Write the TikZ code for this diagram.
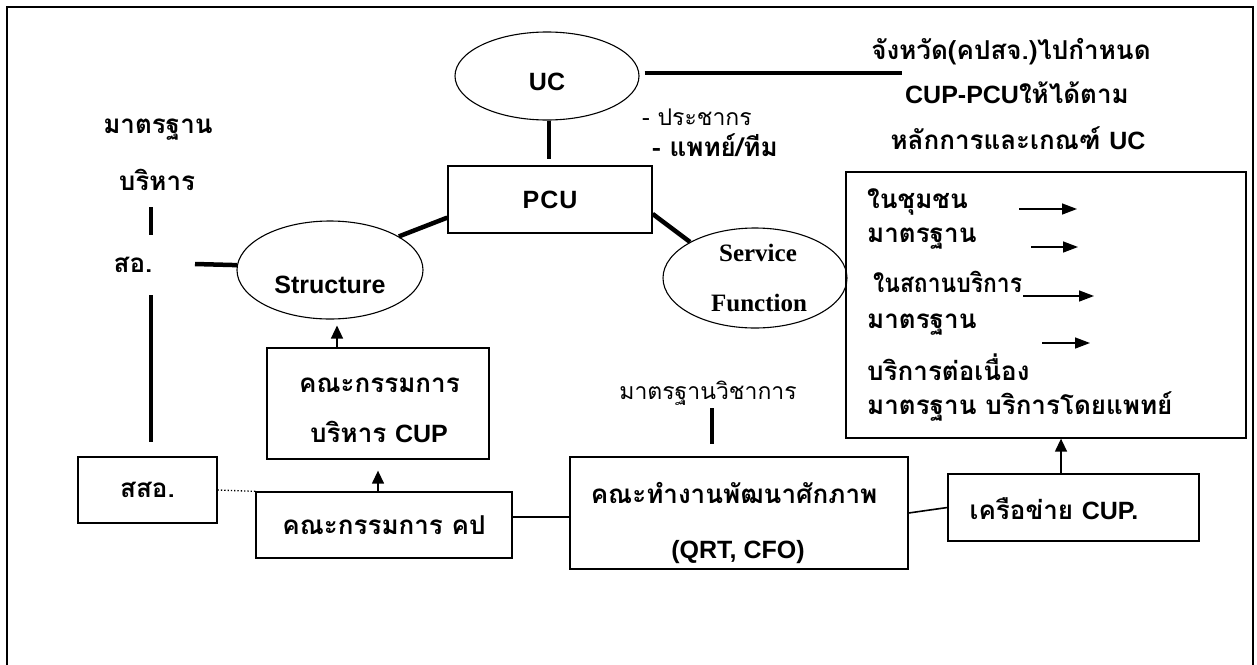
\documentclass[tikz,border=0pt]{standalone}
\usepackage{fontspec}
\usepackage{graphicx}
\setmainfont{Liberation Serif}
\setsansfont{Liberation Sans}
\newfontfamily\thaif[Script=Thai]{Loma}
\usetikzlibrary{shapes.geometric,arrows.meta}
\newcommand\fsz{\fontsize{26}{30}\selectfont}
\newcommand\fszr{\fontsize{23}{27}\selectfont}
\newcommand\fszl{\fontsize{25}{30}\selectfont}
\newcommand\lt[1]{{\fszl\sffamily #1}}
\tikzset{
 box/.style={draw, line width=1.3pt, rectangle, inner sep=0pt, font=\fsz\thaif\bfseries},
 ell/.style={draw, line width=1.1pt, ellipse, inner sep=0pt},
 thk/.style={line width=4.5pt},
 thn/.style={line width=1.6pt},
 txt/.style={inner sep=0pt, font=\fsz\thaif\bfseries},
 txtreg/.style={inner sep=0pt, font=\fszr\thaif},
 lat/.style={inner sep=0pt, font=\fszl\sffamily\bfseries},
 ser/.style={inner sep=0pt, font=\fszl\rmfamily\bfseries},
 arr/.style={line width=1.4pt, -{Triangle[length=15pt,width=11pt]}},
 arrup/.style={line width=1.4pt, -{Triangle[length=13pt,width=12pt]}},
}
\begin{document}
\begin{tikzpicture}[x=1pt,y=-1pt]
\useasboundingbox (0,0) rectangle (1257,664);
% outer frame
\draw[line width=1.3pt] (7,672) -- (7,7) -- (1253,7) -- (1253,672);

% UC
\node[ell, minimum width=184pt, minimum height=88pt] (uc) at (547,76) {};
\node[lat] (uct) at (547,82) {UC};
\coordinate (ucend) at (902,73);
\draw[thk] ([shift={(5pt,3pt)}]uc.east) -- (ucend);

% top right text
\node[txt] (t1) at (1011,52) {จังหวัด(คปสจ.)ไปกำหนด};
\node[txt] (t2) at (1017,93) {\lt{CUP-PCU}ให้ได้ตาม};
\node[txt] (t3) at (1018,138) {หลักการและเกณฑ์ \lt{UC}};

\node[txtreg, anchor=west] (pop) at (642,117) {- ประชากร};
\node[txt, anchor=west] (doc) at (652,145) {- แพทย์/ทีม};

% PCU
\node[box, minimum width=204pt, minimum height=67pt, font=\fszl\sffamily\bfseries] (pcu) at (550,199.5) {P\kern1ptC\kern1ptU};
\draw[thk, shorten >=6pt] ([xshift=2pt]uc.south) -- ([xshift=-1pt]pcu.north);

% Structure
\node[ell, minimum width=186pt, minimum height=98pt] (str) at (330,270) {};
\node[lat] (strt) at (330,285) {Structure};

% Service Function
\node[ell, minimum width=184pt, minimum height=100pt] (svc) at (755,278) {};
\node[ser] (svt1) at (758,253) {Service};
\node[ser] (svt2) at (759,303) {Function};

\draw[thk] (pcu.190) -- (str.26);
\draw[thk] (pcu.352) -- (svc.151);

% left column
\node[txt] (mt) at (158,130) {มาตรฐาน};
\node[txt] (bh) at (157,180) {บริหาร};
\node[txt] (so) at (133,265) {สอ.};
\coordinate (l1a) at (151,207);
\coordinate (l1b) at (151,235);
\draw[thk] (l1a) -- (l1b);
\coordinate (soR) at (195,264);
\draw[thk] (soR) -- (str.177);
\coordinate (l2a) at (151,295);
\coordinate (l2b) at (151,442);
\draw[thk] (l2a) -- (l2b);

% board
\node[box, minimum width=222pt, minimum height=111pt] (board) at (378,403.5) {};
\node[txt] (bt1) at (379.5,385) {คณะกรรมการ};
\node[txt] (bt2) at (379,432) {บริหาร \lt{CUP}};
\draw[arrup, shorten >=6pt] ([xshift=-41pt]board.north) -- ([xshift=7pt]str.south);

% kp
\node[box, minimum width=256pt, minimum height=66pt] (kp) at (384,525) {คณะกรรมการ คป};
\draw[arrup, shorten >=11pt] ([xshift=-6pt]kp.north) -- ([xshift=0pt]board.south);

% ssor
\node[box, minimum width=139pt, minimum height=66pt] (ssor) at (147.5,490) {สสอ.};
\draw[dotted, line width=1.3pt] (ssor.east) -- (kp.north west);

% QRT
\node[box, minimum width=338pt, minimum height=112pt] (qrt) at (739,513) {};
\node[txt] (qt1) at (734,493) {คณะทำงานพัฒนาศักภาพ};
\node[lat] (qt2) at (738,552) {(QRT, CFO)};
\draw[thn] ([yshift=8pt]kp.east) -- ([yshift=-4pt]qrt.west);

\node[txtreg] (mv) at (708,393) {มาตรฐานวิชาการ};
\coordinate (mva) at (712,408);
\draw[thk, shorten >=12pt] (mva) -- ([xshift=-27pt]qrt.north);

% network
\node[box, minimum width=251pt, minimum height=67pt] (net) at (1073.5,507.5) {};
\node[txt] (nett) at (1054,509) {เครือข่าย \lt{CUP.}};
\draw[thn] (qrt.east) -- (net.west);

% right box
\node[box, minimum width=400pt, minimum height=266pt] (rbox) at (1046,305) {};
\draw[arrup] ([xshift=-12.5pt]net.north) -- ([xshift=15pt]rbox.south);

\node[txt, anchor=west] (r1) at (867,202) {ในชุมชน};
\node[txt, anchor=west] (r2) at (867,239) {มาตรฐาน};
\node[txt, anchor=west] (r3) at (873,282) {\scalebox{0.88}[1]{ในสถานบริการ}};
\node[txt, anchor=west] (r4) at (867,325) {มาตรฐาน};
\node[txt, anchor=west] (r5) at (867,367) {บริการต่อเนื่อง};
\node[txt, anchor=west] (r6) at (867,407) {มาตรฐาน บริการโดยแพทย์};

\coordinate (a1s) at (1019,209); \coordinate (a1e) at (1077,209);
\coordinate (a2s) at (1031,247); \coordinate (a2e) at (1078,247);
\coordinate (a3s) at (1023,296); \coordinate (a3e) at (1094,296);
\coordinate (a4s) at (1042,343); \coordinate (a4e) at (1090,343);
\draw[arr] (a1s) -- (a1e);
\draw[arr] (a2s) -- (a2e);
\draw[arr] (a3s) -- (a3e);
\draw[arr] (a4s) -- (a4e);
\end{tikzpicture}
\end{document}
